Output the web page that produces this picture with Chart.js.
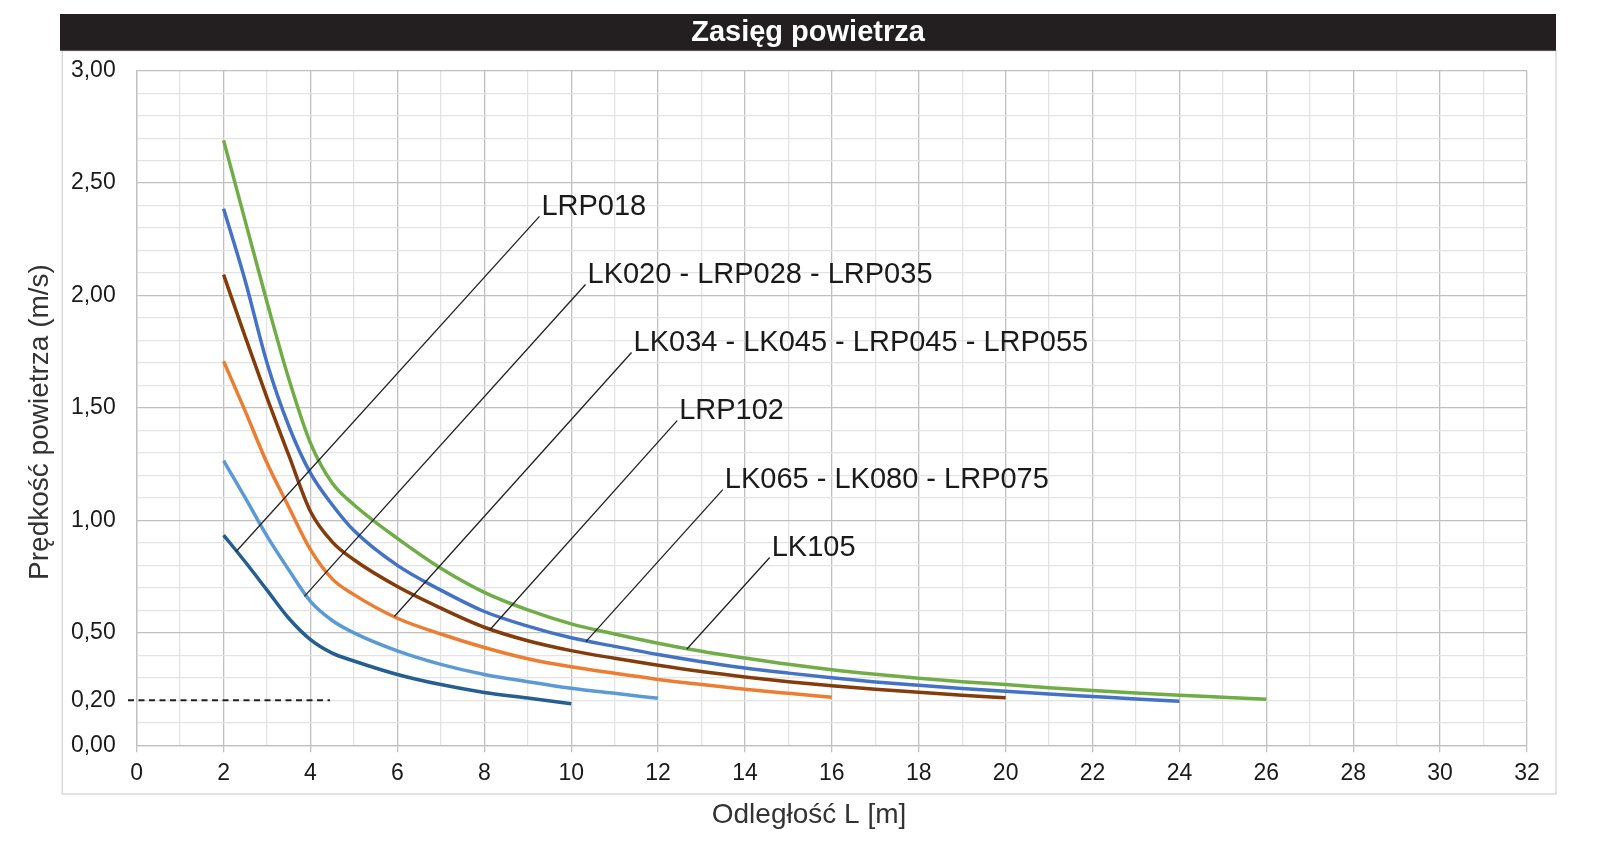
<!DOCTYPE html>
<html>
<head>
<meta charset="utf-8">
<title>Zasięg powietrza</title>
<script src="https://cdn.jsdelivr.net/npm/chart.js@4"></script>
<style>
	body { margin: 0; background: #fff; }
	canvas { display: block; }
</style>
</head>
<body>
<canvas id="myChart" width="1618" height="841"></canvas>
<script>
// odległość L [m] - wspólna oś dla wszystkich krzywych
const distances = [2, 2.5, 3, 3.5, 4, 4.5, 5, 6, 7, 8, 9, 10, 11, 12, 13, 14, 15, 16, 17, 18, 19, 20, 21, 22, 23, 24, 25, 26];

// prędkość powietrza (m/s)
const speedLRP018 = [0.935, 0.815, 0.69, 0.565, 0.47, 0.41, 0.375, 0.315, 0.27, 0.235, 0.21, 0.185];
const speedLK020 = [1.266, 1.10, 0.93, 0.78, 0.64, 0.555, 0.50, 0.42, 0.36, 0.315, 0.283, 0.254, 0.231, 0.209];
const speedLK034 = [1.708, 1.485, 1.255, 1.06, 0.87, 0.74, 0.67, 0.565, 0.495, 0.435, 0.385, 0.349, 0.32, 0.293, 0.27, 0.249, 0.231, 0.214];
const speedLRP102 = [2.093, 1.815, 1.545, 1.29, 1.04, 0.905, 0.825, 0.706, 0.61, 0.525, 0.465, 0.421, 0.387, 0.356, 0.328, 0.304, 0.283, 0.265, 0.249, 0.236, 0.223, 0.211];
const speedLK065 = [2.386, 2.064, 1.70, 1.42, 1.21, 1.07, 0.955, 0.80, 0.69, 0.595, 0.53, 0.478, 0.44, 0.404, 0.372, 0.344, 0.321, 0.30, 0.282, 0.267, 0.253, 0.24, 0.228, 0.217, 0.206, 0.196];
const speedLK105 = [2.69, 2.33, 1.97, 1.63, 1.344, 1.166, 1.07, 0.92, 0.787, 0.68, 0.602, 0.54, 0.495, 0.454, 0.418, 0.388, 0.36, 0.336, 0.316, 0.298, 0.283, 0.27, 0.256, 0.244, 0.233, 0.223, 0.214, 0.205];

const seriesNames = ["LRP018", "LK020 - LRP028 - LRP035", "LK034 - LK045 - LRP045 - LRP055", "LRP102", "LK065 - LK080 - LRP075", "LK105"];
const seriesColors = ["#255e91", "#5b9bd5", "#ed7d31", "#843c0c", "#4472c4", "#70ad47"];

// opisy: punkt na krzywej -> początek napisu (w jednostkach osi)
const calloutCurveX = [2.29, 3.86, 5.93, 8.13, 10.34, 12.66];
const calloutCurveY = [0.862, 0.662, 0.573, 0.514, 0.461, 0.427];
const calloutLabelX = [9.27, 10.33, 11.39, 12.44, 13.49, 14.57];
const calloutLabelY = [2.352, 2.049, 1.747, 1.444, 1.137, 0.835];

// linia przerywana 0,20 m/s
const refSpeed = 0.2;
const refFrom = -0.2;
const refTo = 4.45;

const yTickLabels = [0, 0.2, 0.5, 1, 1.5, 2, 2.5, 3];

const FONT = "'Liberation Sans', Arial, sans-serif";

function points(values) {
	return values.map((v, i) => ({ x: distances[i], y: v }));
}

const allSpeeds = [speedLRP018, speedLK020, speedLK034, speedLRP102, speedLK065, speedLK105];

let datasets = allSpeeds.map((vals, i) => ({
	label: seriesNames[i],
	data: points(vals),
	borderColor: seriesColors[i],
	backgroundColor: seriesColors[i],
	borderWidth: 3.5,
	pointRadius: 0,
	showLine: true,
	cubicInterpolationMode: "monotone",
}));

datasets.push({
	label: "0,20",
	data: [{ x: refFrom, y: refSpeed }, { x: refTo, y: refSpeed }],
	borderColor: "#222",
	borderWidth: 2,
	borderDash: [6, 4.5],
	pointRadius: 0,
	showLine: true,
	clip: false,
});

const frame = {
	id: "frame",
	beforeDraw(chart) {
		const c = chart.ctx;
		c.save();
		c.fillStyle = "#fff";
		c.fillRect(0, 0, chart.width, chart.height);
		// ramka
		c.strokeStyle = "#d9d9d9";
		c.lineWidth = 1.5;
		c.strokeRect(62.3, 50.7, 1556 - 62.3, 794 - 50.7);
		// pasek tytułu
		c.fillStyle = "#231f20";
		c.fillRect(60, 14, 1556 - 60, 36.7);
		c.fillStyle = "#fff";
		c.font = "bold 29px " + FONT;
		c.textAlign = "center";
		c.textBaseline = "middle";
		c.fillText("Zasięg powietrza", 808, 33);
		c.restore();
	},
	afterDatasetsDraw(chart) {
		const c = chart.ctx;
		const sx = chart.scales.x, sy = chart.scales.y;
		c.save();
		c.strokeStyle = "#222";
		c.lineWidth = 1.3;
		c.fillStyle = "#1a1a1a";
		c.font = "29px " + FONT;
		c.textAlign = "left";
		c.textBaseline = "alphabetic";
		for (let i = 0; i < seriesNames.length; i++) {
			const x0 = sx.getPixelForValue(calloutCurveX[i]);
			const y0 = sy.getPixelForValue(calloutCurveY[i]);
			const x1 = sx.getPixelForValue(calloutLabelX[i]);
			const y1 = sy.getPixelForValue(calloutLabelY[i]);
			c.beginPath();
			c.moveTo(x0, y0);
			c.lineTo(x1, y1);
			c.stroke();
			c.fillText(seriesNames[i], x1 + 2, y1 - 1.5);
		}
		// tytuły osi
		c.fillStyle = "#333";
		c.font = "28px " + FONT;
		c.textAlign = "center";
		c.textBaseline = "middle";
		c.fillText("Odległość L [m]", 809, 815);
		c.translate(40, 422);
		c.rotate(-Math.PI / 2);
		c.fillText("Prędkość powietrza (m/s)", 0, 0);
		c.restore();
	},
};

let ctx = document.getElementById("myChart").getContext("2d");
let myChart = new Chart(ctx, {
	type: "scatter",
	data: { datasets: datasets },
	options: {
		responsive: false,
		animation: false,
		devicePixelRatio: 1,
		layout: { padding: { left: 62, top: 70.7, right: 91, bottom: 47 } },
		plugins: {
			legend: { display: false },
			tooltip: { enabled: false },
		},
		scales: {
			x: {
				type: "linear",
				min: 0,
				max: 32,
				afterFit: (scale) => { scale.height = 48.7; },
				ticks: {
					stepSize: 1,
					autoSkip: false,
					maxRotation: 0,
					padding: 8,
					color: "#1a1a1a",
					font: { family: FONT, size: 23 },
					callback: (v) => (v % 2 === 0 ? v : ""),
				},
				grid: {
					lineWidth: 1.3,
					color: (c) => (c.tick && c.tick.value % 2 === 0 ? "#c0c0c0" : "#e3e3e3"),
					tickColor: (c) => (c.tick && c.tick.value % 2 === 0 ? "#c0c0c0" : "rgba(0,0,0,0)"),
					tickLength: 7,
				},
				border: { color: "#c0c0c0", width: 1.3 },
			},
			y: {
				type: "linear",
				min: 0,
				max: 3,
				afterFit: (scale) => { scale.width = 74.7; },
				ticks: {
					stepSize: 0.1,
					autoSkip: false,
					padding: 21,
					color: "#1a1a1a",
					font: { family: FONT, size: 23 },
					callback: (v) => {
						const t = Math.round(v * 10) / 10;
						return yTickLabels.includes(t) ? t.toFixed(2).replace(".", ",") : "";
					},
				},
				grid: {
					lineWidth: 1.3,
					drawTicks: false,
					color: (c) => (c.tick && Math.round(c.tick.value * 10) % 5 === 0 ? "#c0c0c0" : "#e3e3e3"),
				},
				border: { color: "#c0c0c0", width: 1.3 },
			},
		},
	},
	plugins: [frame],
});
</script>
</body>
</html>
